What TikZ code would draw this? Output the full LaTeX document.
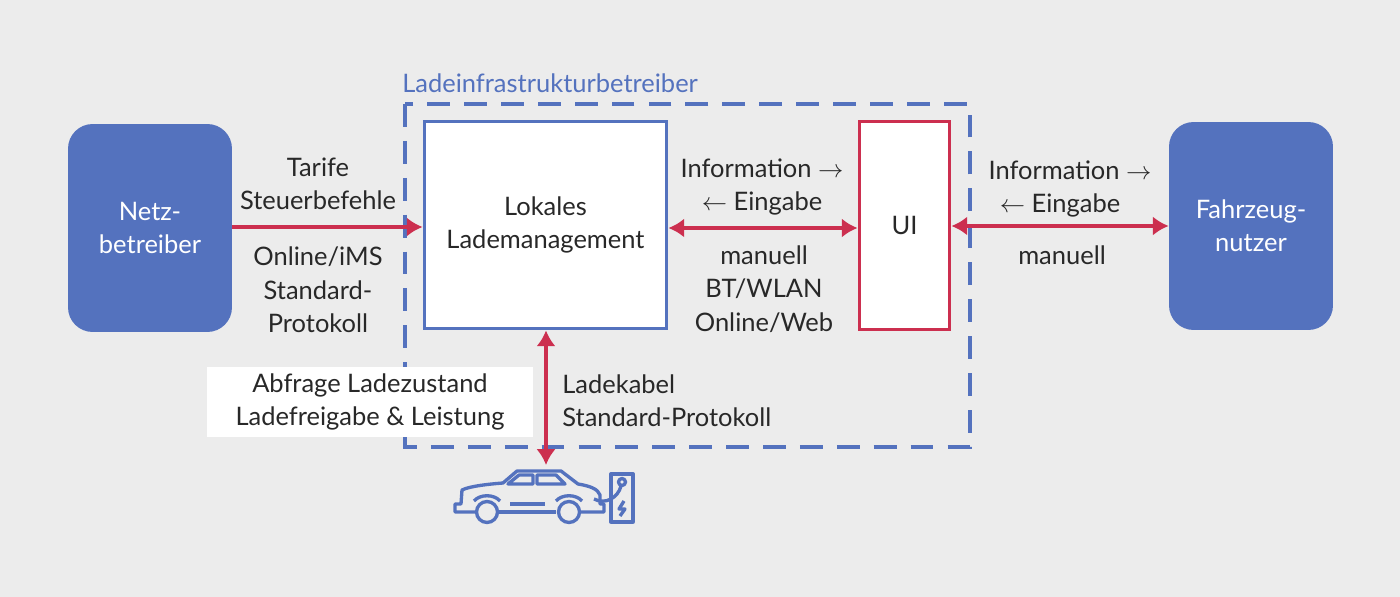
\documentclass[tikz,border=0pt]{standalone}
\usepackage{fontspec}
\setmainfont{Lato}
\usepackage{tikz}
\usetikzlibrary{arrows.meta,positioning}
\definecolor{bg}{RGB}{236,236,236}
\definecolor{blu}{RGB}{84,114,190}
\definecolor{rd}{RGB}{204,47,79}
\definecolor{txt}{RGB}{40,40,40}

\begin{document}
\begin{tikzpicture}[x=0.02cm,y=-0.02cm,
  font=\fontsize{14.5}{19}\selectfont, text=txt,
  role node/.style={rectangle,rounded corners=14pt,fill=blu,text=white,minimum width=3.28cm,minimum height=4.16cm,align=center},
  lm node/.style={rectangle,fill=white,draw=blu,line width=2.2pt,minimum width=4.84cm,minimum height=4.14cm,align=center},
  ui node/.style={rectangle,fill=white,draw=rd,line width=2.2pt,minimum width=1.8cm,minimum height=4.16cm},
  lab/.style={align=center,inner sep=0pt},
  flow/.style={draw=rd,line width=2.6pt,-{Latex[length=9pt,width=11pt]}},
  both/.style={flow,{Latex[length=9pt,width=11pt]}-{Latex[length=9pt,width=11pt]}},
  icon/.style={draw=blu,line width=1.9pt,line join=round}]

  \fill[bg] (0,0) rectangle (1400,597);

  \node[role node] (netz) at (150,228) {Netz-\\betreiber};
  \node[role node] (nutzer) at (1251,226) {Fahrzeug-\\nutzer};
  \draw[blu,line width=2.3pt,dash pattern=on 13pt off 8pt] (405,104) rectangle (970,447);
  \node[anchor=west,text=blu,inner sep=0pt] (lib) at (402,83) {Ladeinfrastrukturbetreiber};
  \node[lm node] (lm) at (545.5,225) {Lokales\\Lademanagement};
  \node[ui node] (ui) at (904.5,225.5) {UI};
  \coordinate (car) at (546,465);

  \path (netz.east |- 0,227) edge[flow] (lm.west |- 0,227)
        (lm.east |- 0,228) edge[both] (ui.west |- 0,228)
        (ui.east |- 0,226) edge[both] (nutzer.west |- 0,226)
        (lm.south -| 546,0) edge[both] (car);

  % texts
  \node[lab] (tarif) at (318,184) {Tarife\\Steuerbefehle};
  \node[lab] (ims) at (318,290) {Online/iMS\\Standard-\\Protokoll};
  \node[lab] (info1) at (762,187) {Information $\rightarrow$\\$\leftarrow$ Eingabe};
  \node[lab] (bt) at (764,289) {manuell\\BT/WLAN\\Online/Web};
  \node[lab] (info2) at (1070,170) {Information $\rightarrow$};
  \node[lab] (ein2) at (1060,205) {$\leftarrow$ Eingabe};
  \node[lab] (man2) at (1062,255) {manuell};
  \node[fill=white,minimum width=6.52cm,minimum height=1.4cm] (abfr) at (370,402) {};
  \node[lab] at (abfr) {Abfrage Ladezustand\\Ladefreigabe \& Leistung};
  \node[lab,anchor=north west,align=left] (kabel) at (562,374) {Ladekabel\\Standard-Protokoll};

  % car icon
  \draw[icon] (476,512) -- (455,512) -- (455,504) -- (461,504) -- (462,490)
    .. controls (470,486) and (490,484) .. (503,483) -- (517,471) -- (561,471)
    -- (578,484) .. controls (590,486) and (598,489) .. (600,495) -- (600,504)
    -- (604,504) -- (604,512) -- (580,512);
  \draw[icon] (498,512) -- (556,512);
  \draw[icon] (508,484) -- (519,475) -- (533,475) -- (533,484) -- cycle;
  \draw[icon] (537,475) -- (556,475) -- (565,484) -- (537,484) -- cycle;
  \draw[icon] (510,504) -- (545,504);
  \draw[icon] (487,512) circle (10.5) (569,512) circle (10.5);
  \draw[icon] (474,501) .. controls (480,494) and (494,494) .. (500,501);
  \draw[icon] (556,501) .. controls (562,494) and (576,494) .. (582,501);
  \draw[icon] (611,474) rectangle (633,522);
  \draw[icon] (594,499) .. controls (605,505) and (618,498) .. (621,486);
  \draw[icon] (622,482) circle (3.5);
  \draw[icon] (624,501) -- (619,509) -- (625,509) -- (620,516);
\end{tikzpicture}
\end{document}
